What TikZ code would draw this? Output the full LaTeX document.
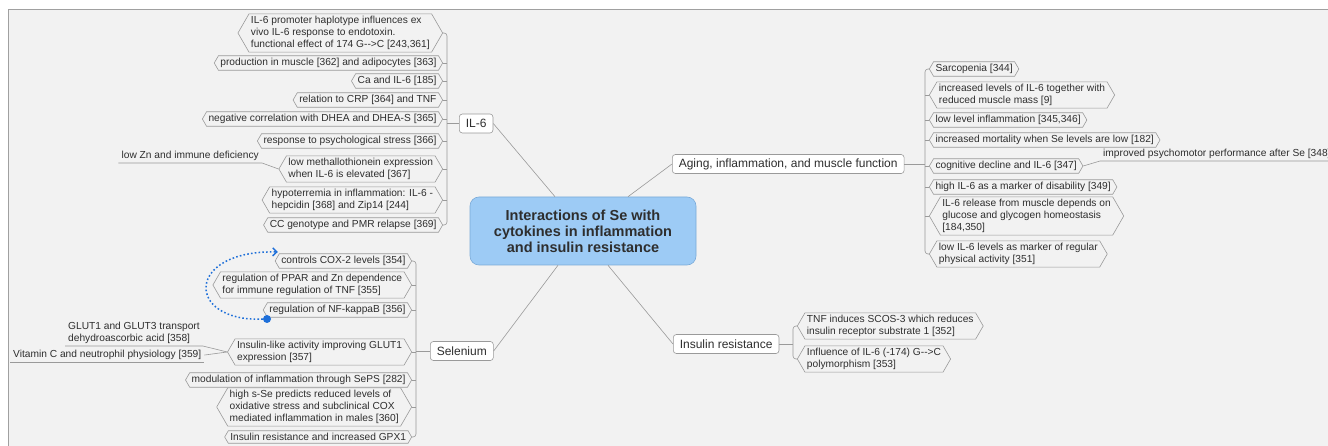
\documentclass[tikz,border=0pt]{standalone}
\usepackage{fontspec}
\setmainfont{Liberation Sans}
\usetikzlibrary{shapes.symbols,arrows.meta}

\definecolor{canvas}{HTML}{F2F2F2}
\definecolor{framegray}{HTML}{A0A0A0}
\definecolor{linegray}{HTML}{9A9A9A}
\definecolor{inkgray}{HTML}{2E2E2E}
\definecolor{rootblue}{HTML}{9DCBF5}
\definecolor{rootedge}{HTML}{7AAAD8}
\definecolor{linkblue}{HTML}{1E6FD9}

\newcommand{\twodash}{-\kern0pt-}

\tikzset{
  topic/.style={shape=signal, signal to=west and east, signal pointer angle=120,
    draw=linegray, fill=canvas, line width=0.6pt, inner xsep=2pt, inner ysep=2.5pt,
    align=left, text=inkgray, font=\fontsize{10.2}{11.8}\selectfont},
  branch/.style={draw=linegray, fill=white, rounded corners=3pt, line width=0.6pt,
    inner xsep=6.5pt, minimum height=19pt, text=inkgray, font=\fontsize{12}{14}\selectfont},
  root/.style={draw=rootedge, fill=rootblue, rounded corners=9pt, line width=0.6pt,
    minimum width=226pt, minimum height=68pt, align=center, text=inkgray,
    font=\bfseries\fontsize{14.5}{16}\selectfont},
  leaf/.style={inner xsep=3pt, inner ysep=2pt, align=left, text=inkgray,
    font=\fontsize{10.2}{11.8}\selectfont},
  conn/.style={draw=linegray, line width=0.6pt},
}

\begin{document}
\begin{tikzpicture}[x=1pt,y=-1pt]
  \useasboundingbox (0,0) rectangle (1328,446);
  \clip (0,0) rectangle (1328,446);
  \fill[white] (0,0) rectangle (1328,446);
  \draw[framegray, fill=canvas] (8,9) rectangle (1340,460);

  % centre and main topics
  \node[root] (root) at (583,231) {Interactions of Se with\\cytokines in inflammation\\and insulin resistance};
  \node[branch, anchor=west] (il6) at (459,123.5) {IL-6};
  \node[branch, anchor=west] (aging) at (672,164) {Aging, inflammation, and muscle function};
  \node[branch, anchor=west] (se) at (430,351) {Selenium};
  \node[branch, anchor=west] (ins) at (673,344) {Insulin resistance};

  \draw[conn] ([xshift=-28pt]root.north) -- (il6.east);
  \draw[conn] ([xshift=45pt]root.north) -- (aging.west);
  \draw[conn] ([xshift=-25pt]root.south) -- (se.east);
  \draw[conn] ([xshift=25pt]root.south) -- (ins.west);

  % IL-6
  \node[topic, anchor=east] (l1) at (443,33) {IL-6 promoter haplotype influences ex\\vivo IL-6 response to endotoxin.\\functional effect of 174 G\twodash>C [243,361]};
  \node[topic, anchor=east] (l2) at (443,63) {production in muscle [362] and adipocytes [363]};
  \node[topic, anchor=east] (l3) at (443,81) {Ca and IL-6 [185]};
  \node[topic, anchor=east] (l4) at (443,100) {relation to CRP [364] and TNF};
  \node[topic, anchor=east] (l5) at (443,119) {negative correlation with DHEA and DHEA-S [365]};
  \node[topic, anchor=east] (l6) at (443,141) {response to psychological stress [366]};
  \node[topic, anchor=east] (l7) at (443,169) {low methallothionein expression\\when IL-6 is elevated [367]};
  \node[topic, anchor=east] (l8) at (443,200) {hypoterremia in inflammation: IL-6 -\\hepcidin [368] and Zip14 [244]};
  \node[topic, anchor=east] (l9) at (443,225) {CC genotype and PMR relapse [369]};
  \coordinate (ilbar) at (447,33);
  \draw[conn, rounded corners=3pt] (l1.east) -- (l1.east -| ilbar) -- (l9.east -| ilbar) -- (l9.east);
  \foreach \k in {2,...,8}
    \draw[conn] (l\k.east) -- (l\k.east -| ilbar);
  \draw[conn] (il6.west) -- (il6.west -| ilbar);

  \node[leaf, anchor=south east] (zn) at (262,163) {low Zn and immune deficiency};
  \draw[conn] (zn.south west) -- (zn.south east) -- (l7.west);

  % Selenium
  \node[topic, anchor=east] (s1) at (412,261) {controls COX-2 levels [354]};
  \node[topic, anchor=east] (s2) at (412,285) {regulation of PPAR and Zn dependence\\for immune regulation of TNF [355]};
  \node[topic, anchor=east] (s3) at (412,310) {regulation of NF-kappaB [356]};
  \node[topic, anchor=east] (s4) at (412,352) {Insulin-like activity improving GLUT1\\expression [357]};
  \node[topic, anchor=east] (s5) at (412,380) {modulation of inflammation through SePS [282]};
  \node[topic, anchor=east] (s6) at (412,407) {high s-Se predicts reduced levels of\\oxidative stress and subclinical COX\\mediated inflammation in males [360]};
  \node[topic, anchor=east] (s7) at (412,437) {Insulin resistance and increased GPX1};
  \coordinate (sebar) at (416,261);
  \draw[conn, rounded corners=3pt] (s1.east) -- (s1.east -| sebar) -- (s7.east -| sebar) -- (s7.east);
  \foreach \k in {2,...,6}
    \draw[conn] (s\k.east) -- (s\k.east -| sebar);
  \draw[conn] (se.west) -- (se.west -| sebar);

  \node[leaf, anchor=south west] (glut) at (65,346) {GLUT1 and GLUT3 transport\\dehydroascorbic acid [358]};
  \draw[conn] (glut.south west) -- (glut.south east) -- (s4.west);
  \node[leaf, anchor=south west] (vit) at (10,362) {Vitamin C and neutrophil physiology [359]};
  \draw[conn] (vit.south west) -- (vit.south east);
  \draw[conn] (vit.east) -- (s4.west);

  \node[circle, fill=linkblue, inner sep=0pt, minimum size=8pt] (dot) at (267,319) {};
  \draw[linkblue, line width=1.5pt, dash pattern=on 1.6pt off 2.2pt, -{Straight Barb[length=4pt]}]
    (dot) .. controls (185,322) and (185,250) .. ([shift={(3,-9)}]s1.west);

  % Aging, inflammation, and muscle function
  \node[topic, anchor=west] (a1) at (929,69) {Sarcopenia [344]};
  \node[topic, anchor=west] (a2) at (929,95) {increased levels of IL-6 together with\\reduced muscle mass [9]};
  \node[topic, anchor=west] (a3) at (929,120) {low level inflammation [345,346]};
  \node[topic, anchor=west] (a4) at (929,140) {increased mortality when Se levels are low [182]};
  \node[topic, anchor=west] (a5) at (929,166) {cognitive decline and IL-6 [347]};
  \node[topic, anchor=west] (a6) at (929,187) {high IL-6 as a marker of disability [349]};
  \node[topic, anchor=west] (a7) at (929,216) {IL-6 release from muscle depends on\\glucose and glycogen homeostasis\\{[184,350]}};
  \node[topic, anchor=west] (a8) at (929,254) {low IL-6 levels as marker of regular\\physical activity [351]};
  \coordinate (agbar) at (925,69);
  \draw[conn, rounded corners=3pt] (a1.west) -- (a1.west -| agbar) -- (a8.west -| agbar) -- (a8.west);
  \foreach \k in {2,...,7}
    \draw[conn] (a\k.west) -- (a\k.west -| agbar);
  \draw[conn] (aging.east) -- (aging.east -| agbar);

  \node[leaf, anchor=south west] (psy) at (1100,161) {improved psychomotor performance after Se [348]};
  \draw[conn] (a5.east) -- (psy.south west) -- (psy.south east);

  % Insulin resistance
  \node[topic, anchor=west] (i1) at (797,326) {TNF induces SCOS-3 which reduces\\insulin receptor substrate 1 [352]};
  \node[topic, anchor=west] (i2) at (797,359) {Influence of IL-6 (-174) G\twodash>C\\polymorphism [353]};
  \coordinate (insbar) at (793,326);
  \draw[conn, rounded corners=3pt] (i1.west) -- (i1.west -| insbar) -- (i2.west -| insbar) -- (i2.west);
  \draw[conn] (ins.east) -- (ins.east -| insbar);
\end{tikzpicture}
\end{document}
